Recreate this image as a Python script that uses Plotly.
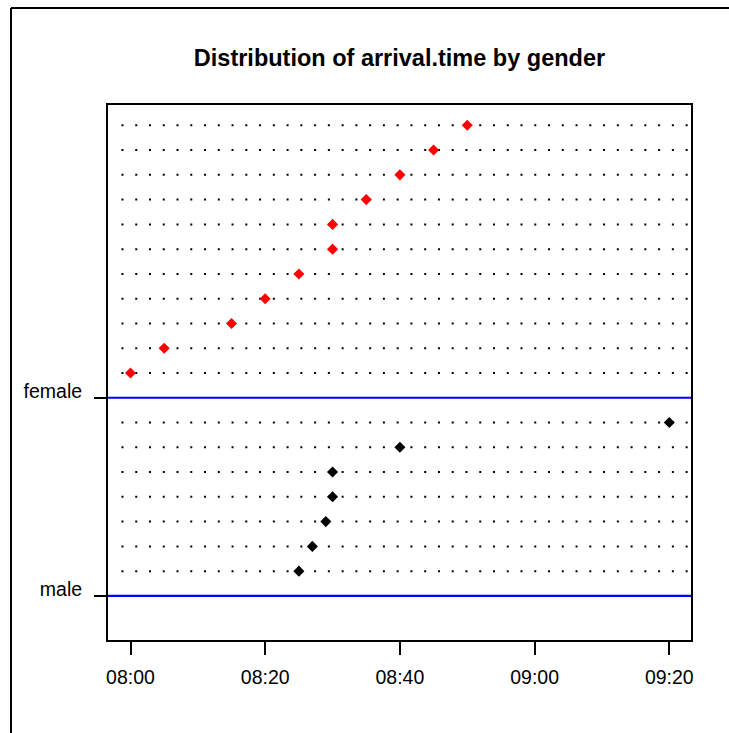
import plotly.graph_objects as go

# ---- data ----
groups = ["male", "female"]
male_times = ["08:25", "08:27", "08:29", "08:30", "08:30", "08:40", "09:20"]
female_times = ["08:00", "08:05", "08:15", "08:20", "08:25", "08:30", "08:30",
                "08:35", "08:40", "08:45", "08:50"]
tick_labels = ["08:00", "08:20", "08:40", "09:00", "09:20"]


def to_min(t):
    h, m = t.split(":")
    return (int(h) - 8) * 60 + int(m)


W, H = 729, 733
ML, MR, MT, MB = 108, 38, 105, 93
PW, PH = W - ML - MR, H - MT - MB

# row layout: male baseline 0, rows 1..7 ; female baseline 8, rows 9..19
male_base = 0
female_base = male_base + len(male_times) + 1
male_y = [male_base + i + 1 for i in range(len(male_times))]
female_y = [female_base + i + 1 for i in range(len(female_times))]

x_range = [-3.34, 83.22]
y_range = [-1.78, 19.82]
dot_x0, dot_x1 = -1.34, 82.97

fig = go.Figure()

# dotted guide lines
dx, dy = [], []
for yy in male_y + female_y:
    dx += [dot_x0, dot_x1, None]
    dy += [yy, yy, None]
fig.add_trace(go.Scatter(x=dx, y=dy, mode="lines",
                         line=dict(color="black", width=2, dash="2px,11.76px"),
                         hoverinfo="skip", showlegend=False))

# blue baselines
fig.add_trace(go.Scatter(x=[x_range[0], x_range[1], None, x_range[0], x_range[1]],
                         y=[male_base, male_base, None, female_base, female_base],
                         mode="lines", line=dict(color="#0000ff", width=2.2),
                         hoverinfo="skip", showlegend=False))

fig.add_trace(go.Scatter(x=[to_min(t) for t in male_times], y=male_y, mode="markers",
                         marker=dict(symbol="diamond", size=8.5, color="black"),
                         showlegend=False))
fig.add_trace(go.Scatter(x=[to_min(t) for t in female_times], y=female_y, mode="markers",
                         marker=dict(symbol="diamond", size=8.5, color="#ff0000"),
                         showlegend=False))

font_family = "Liberation Sans, Arial, sans-serif"

bx0 = (11 - ML) / PW
bx1 = (W + 20 - ML) / PW
by0 = (H - MB - (H + 20)) / PH
by1 = (H - MB - 8) / PH

fig.update_layout(
    width=W, height=H,
    margin=dict(l=ML, r=MR, t=MT, b=MB),
    paper_bgcolor="white", plot_bgcolor="white",
    font=dict(family=font_family, color="black", size=19.5),
    title=dict(text="<b>Distribution of arrival.time by gender</b>",
               font=dict(family=font_family, size=23.5, color="black"),
               x=0.5, xref="paper", xanchor="center",
               y=1 - 57.5 / H, yref="container", yanchor="middle"),
    xaxis=dict(range=x_range, tickvals=[to_min(t) for t in tick_labels], ticktext=tick_labels,
               showgrid=False, zeroline=False, showline=True, mirror=True,
               linecolor="black", linewidth=2, ticks="outside", ticklen=13,
               tickwidth=2, tickcolor="black", ticklabelstandoff=6,
               tickfont=dict(size=19.5)),
    yaxis=dict(range=y_range, tickvals=[male_base, female_base], ticktext=groups,
               showgrid=False, zeroline=False, showline=True, mirror=True,
               linecolor="black", linewidth=2, ticks="outside", ticklen=12,
               tickwidth=2, tickcolor="black", ticklabelshift=-7, ticklabelstandoff=8,
               tickfont=dict(size=19.5)),
    shapes=[
        dict(type="line", xref="paper", yref="paper", x0=bx0, x1=bx1, y0=by1, y1=by1,
             line=dict(color="black", width=2), layer="above"),
        dict(type="line", xref="paper", yref="paper", x0=bx0, x1=bx0, y0=by0, y1=by1,
             line=dict(color="black", width=2), layer="above"),
    ],
)

fig.write_html("out.html",
               config={"displayModeBar": False},
               post_script="document.body.style.margin='0';document.body.style.overflow='hidden';")
